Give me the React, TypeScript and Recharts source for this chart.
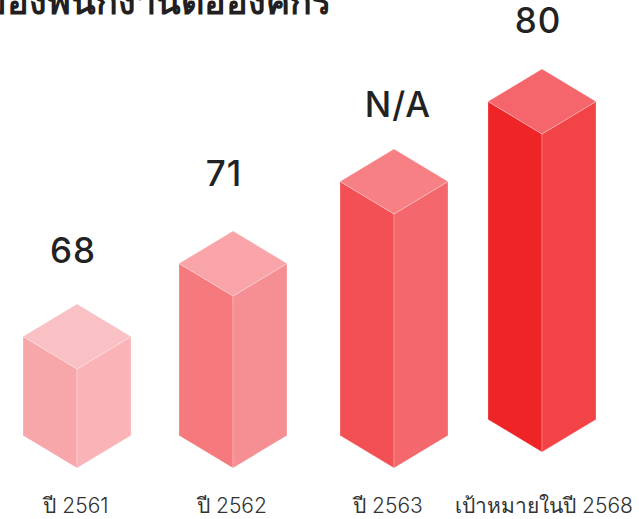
import React from 'react';
import { BarChart, Bar, XAxis, YAxis, LabelList } from 'recharts';

const categories = ['ปี 2561', 'ปี 2562', 'ปี 2563', 'เป้าหมายในปี 2568'];
const valueLabels = ['68', '71', 'N/A', '80'];
// drawn column extents (the printed numbers are not to scale)
const columnBase = [0, 0, 0, 4];
const columnTop = [24.75, 43, 63.5, 83.5];

const topColors = ['#F9C1C4', '#F9A4A8', '#F78085', '#F4666B'];
const leftColors = ['#F7A6AA', '#F5797D', '#F25055', '#EF2426'];
const rightColors = ['#FAB4B7', '#F68F93', '#F4686D', '#F24447'];

// the columns sit slightly off the even category spacing
const columnNudge = [1, 1, 6, -2];
const labelNudgeX = [-4, -9, 4, -4];
const labelGap = [54, 58, 45, 49];

const data = categories.map((name, i) => ({
  name,
  range: [columnBase[i], columnTop[i]],
  label: valueLabels[i],
}));

const FONT = 'Inter, "Noto Sans", sans-serif';
const DEPTH = 32.5;

function IsoColumn(props: any) {
  const { x, y, width, height, index } = props;
  const cx = x + width / 2 + columnNudge[index];
  const half = width / 2;
  const top = Math.min(y, y + height);
  const bottom = Math.max(y, y + height);
  const edge = { stroke: '#fff', strokeOpacity: 0.25, strokeWidth: 1 };
  return (
    <g>
      <polygon
        points={`${cx - half},${top - DEPTH} ${cx},${top} ${cx},${bottom} ${cx - half},${bottom - DEPTH}`}
        fill={leftColors[index]}
        {...edge}
      />
      <polygon
        points={`${cx + half},${top - DEPTH} ${cx},${top} ${cx},${bottom} ${cx + half},${bottom - DEPTH}`}
        fill={rightColors[index]}
        {...edge}
      />
      <polygon
        points={`${cx},${top - 2 * DEPTH} ${cx + half},${top - DEPTH} ${cx},${top} ${cx - half},${top - DEPTH}`}
        fill={topColors[index]}
        {...edge}
      />
    </g>
  );
}

function ValueLabel(props: any) {
  const { x, y, width, height, index, value } = props;
  const top = Math.min(y, y + height);
  return (
    <text
      x={x + width / 2 + columnNudge[index] + labelNudgeX[index]}
      y={top - 2 * DEPTH - labelGap[index]}
      dy="0.36em"
      textAnchor="middle"
      fontFamily={FONT}
      fontSize={35}
      fontWeight={550}
      letterSpacing={1}
      fill="#222"
    >
      {value}
    </text>
  );
}

export default function App() {
  return (
    <div style={{ position: 'absolute', left: 0, top: 0, width: 639, height: 519, overflow: 'hidden', background: '#fff' }}>
      <div
        style={{
          position: 'absolute',
          right: 308,
          top: -23,
          whiteSpace: 'nowrap',
          fontFamily: FONT,
          fontSize: 36,
          fontWeight: 700,
          lineHeight: '48px',
          color: '#231F20',
        }}
      >
        ของพนักงานต่อองค์กร
      </div>
      <BarChart
        width={639}
        height={519}
        data={data}
        barSize={108}
        margin={{ top: 68, right: 17, bottom: 0, left: -2 }}
      >
        <XAxis
          dataKey="name"
          interval={0}
          axisLine={false}
          tickLine={false}
          height={51}
          tickMargin={24}
          tick={{ fontFamily: FONT, fontSize: 21, fontWeight: 300, fill: '#333' }}
        />
        <YAxis hide domain={[0, 100]} />
        <Bar dataKey="range" isAnimationActive={false} shape={<IsoColumn />}>
          <LabelList dataKey="label" content={<ValueLabel />} />
        </Bar>
      </BarChart>
    </div>
  );
}
